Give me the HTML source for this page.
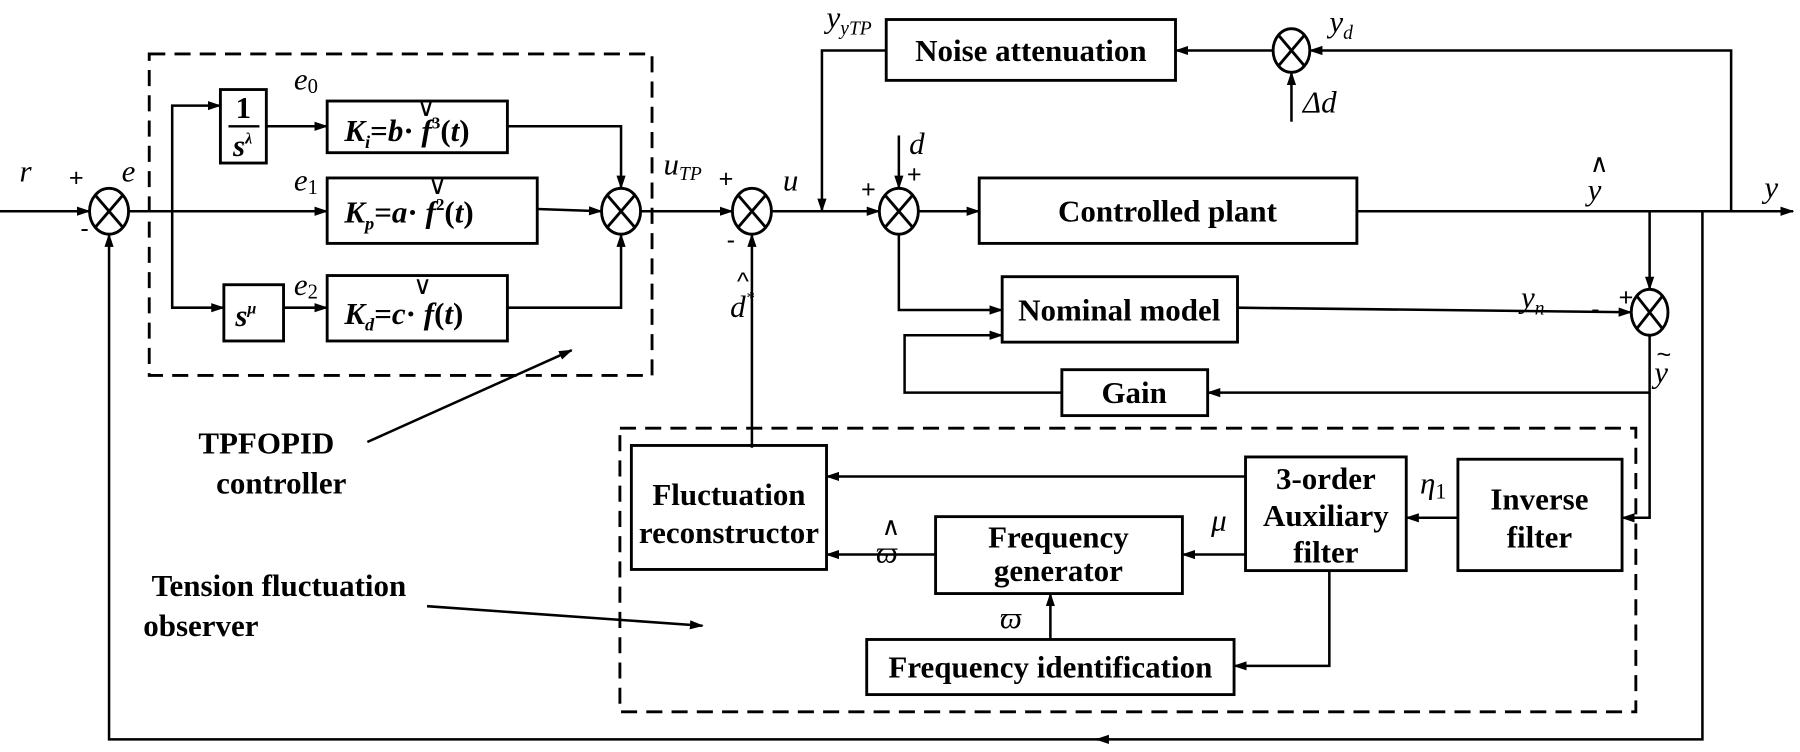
<!DOCTYPE html>
<html><head><meta charset="utf-8"><style>
html,body{margin:0;padding:0;background:#fff;}
svg{display:block;}
.b{font-family:"Liberation Serif",serif;font-weight:bold;font-size:27px;text-anchor:middle;}
.i{font-family:"Liberation Serif",serif;font-style:italic;font-size:27px;}
.s{font-family:"Liberation Sans",sans-serif;font-size:22px;}
</style></head><body>
<svg width="1800" height="752" viewBox="0 0 1568 655" preserveAspectRatio="none" xmlns="http://www.w3.org/2000/svg">
<defs><marker id="a" markerWidth="12" markerHeight="10" refX="11" refY="5" orient="auto" markerUnits="userSpaceOnUse"><path d="M0,1 L12,5 L0,9 Z" fill="#000"/></marker></defs>
<g fill="none" stroke="#000" stroke-width="2.5">
<rect x="130" y="47" width="438" height="280" stroke-dasharray="14,8"/>
<rect x="540" y="373" width="885" height="247" stroke-dasharray="14,8"/>
</g>
<g stroke="#000" stroke-width="2.5" fill="#fff">
<ellipse cx="95" cy="184" rx="17" ry="20"/><ellipse cx="541" cy="184" rx="17" ry="20"/><ellipse cx="655" cy="184" rx="17" ry="20"/><ellipse cx="783" cy="184" rx="17" ry="20"/><ellipse cx="1125" cy="44" rx="16" ry="19"/><ellipse cx="1437" cy="272" rx="16" ry="20"/>
</g>
<g stroke="#000" stroke-width="2.5">
<path d="M83,170 L107,198 M107,170 L83,198 M529,170 L553,198 M553,170 L529,198 M643,170 L667,198 M667,170 L643,198 M771,170 L795,198 M795,170 L771,198 M1114,31 L1136,57 M1136,31 L1114,57 M1426,258 L1448,286 M1448,258 L1426,286"/>
</g>
<g fill="#fff" stroke="#000" stroke-width="2.5">
<rect x="192" y="78" width="40" height="64"/>
<rect x="285" y="88" width="157" height="45"/>
<rect x="285" y="155" width="183" height="57"/>
<rect x="195" y="248" width="52" height="49"/>
<rect x="285" y="240" width="157" height="57"/>
<rect x="772" y="17" width="252" height="53"/>
<rect x="853" y="155" width="329" height="57"/>
<rect x="873" y="241" width="205" height="57"/>
<rect x="925" y="322" width="127" height="40"/>
<rect x="550" y="388" width="170" height="108"/>
<rect x="1085" y="398" width="140" height="99"/>
<rect x="1270" y="400" width="143" height="97"/>
<rect x="815" y="450" width="215" height="67"/>
<rect x="755" y="557" width="320" height="48"/>
</g>
<g fill="none" stroke="#000" stroke-width="2.2" marker-end="url(#a)">
<path d="M0,184 L78,184"/>
<path d="M112,184 L285,184"/>
<path d="M150,184 L150,92 L192,92"/>
<path d="M150,184 L150,268 L195,268"/>
<path d="M232,110 L285,110"/>
<path d="M247,268 L285,268"/>
<path d="M442,110 L541,110 L541,164"/>
<path d="M442,268 L541,268 L541,204"/>
<path d="M468,182 L524,184"/>
<path d="M558,184 L638,184"/>
<path d="M672,184 L766,184"/>
<path d="M772,44 L716,44 L716,184"/>
<path d="M783,118 L783,164"/>
<path d="M800,184 L853,184"/>
<path d="M1182,184 L1562,184"/>
<path d="M1508,184 L1508,44 L1141,44"/>
<path d="M1109,44 L1024,44"/>
<path d="M1125,106 L1125,63"/>
<path d="M1437,184 L1437,252"/>
<path d="M1078,268 L1421,272"/>
<path d="M783,204 L783,270 L873,270"/>
<path d="M925,342 L788,342 L788,292 L873,292"/>
<path d="M1437,292 L1437,342 L1052,342"/>
<path d="M1437,342 L1437,451 L1413,451"/>
<path d="M1483,184 L1483,644 L955,644"/>
<path d="M960,644 L95,644 L95,204"/>
<path d="M655,390 L655,204"/>
<path d="M1270,451 L1225,451"/>
<path d="M1085,415 L720,415"/>
<path d="M1085,483 L1030,483"/>
<path d="M815,483 L720,483"/>
<path d="M1158,497 L1158,580 L1075,580"/>
<path d="M915,557 L915,517"/>
<path d="M320,385 L498,305"/>
<path d="M372,528 L612,545"/>
</g>
<g>
<text class="b" x="212" y="103" font-size="26">1</text>
<line x1="199" y1="110" x2="226" y2="110" stroke="#000" stroke-width="2"/>
<text class="i" x="203" y="136" font-weight="bold" font-size="25">s<tspan font-size="14" dy="-11">λ</tspan></text>
<text class="i" x="205" y="284" font-weight="bold" font-size="25">s<tspan font-size="14" dy="-11">μ</tspan></text>
<text class="i" x="300" y="123" font-weight="bold" font-size="28">K<tspan font-size="16" dy="6">i</tspan><tspan dy="-6" font-style="normal">=</tspan>b<tspan font-style="normal">·</tspan> f<tspan font-size="15" dy="-11" font-style="normal">3</tspan><tspan dy="11" font-style="normal">(</tspan>t<tspan font-style="normal">)</tspan></text>
<text class="s" x="363" y="101" font-size="14">∨</text>
<text class="i" x="300" y="194" font-weight="bold" font-size="28">K<tspan font-size="16" dy="6">p</tspan><tspan dy="-6" font-style="normal">=</tspan>a<tspan font-style="normal">·</tspan> f<tspan font-size="15" dy="-11" font-style="normal">2</tspan><tspan dy="11" font-style="normal">(</tspan>t<tspan font-style="normal">)</tspan></text>
<text class="s" x="373" y="169" font-size="14">∨</text>
<text class="i" x="300" y="282" font-weight="bold" font-size="28">K<tspan font-size="16" dy="6">d</tspan><tspan dy="-6" font-style="normal">=</tspan>c<tspan font-style="normal">·</tspan> f<tspan font-style="normal">(</tspan>t<tspan font-style="normal">)</tspan></text>
<text class="s" x="360" y="256" font-size="14">∨</text>
<text class="i" x="17" y="158">r</text>
<text class="s" x="60" y="162">+</text>
<text class="i" x="106" y="158" font-size="25">e</text>
<text class="s" x="70" y="206" font-size="24">-</text>
<text class="i" x="256" y="78" font-size="22">e<tspan font-style="normal" font-size="18" dy="3">0</tspan></text>
<text class="i" x="256" y="166" font-size="22">e<tspan font-style="normal" font-size="18" dy="3">1</tspan></text>
<text class="i" x="256" y="257" font-size="22">e<tspan font-style="normal" font-size="18" dy="3">2</tspan></text>
<text class="i" x="578" y="152">u<tspan font-size="17" dy="5">TP</tspan></text>
<text class="s" x="626" y="163">+</text>
<text class="i" x="682" y="166">u</text>
<text class="s" x="633" y="216" font-size="24">-</text>
<text class="i" x="636" y="276">d<tspan font-size="15" dy="-12">*</tspan></text>
<text class="s" x="642" y="252" font-size="16">^</text>
<text class="i" x="720" y="24">y<tspan font-size="17" dy="6">yTP</tspan></text>
<text class="i" x="792" y="134" font-size="28">d</text>
<text class="s" x="750" y="172">+</text>
<text class="s" x="790" y="159">+</text>
<text class="i" x="1158" y="28">y<tspan font-size="17" dy="6">d</tspan></text>
<text class="i" x="1135" y="98">Δd</text>
<text class="i" x="1383" y="174">y</text>
<text class="s" x="1385" y="150" font-size="16">∧</text>
<text class="i" x="1537" y="172">y</text>
<text class="i" x="1325" y="268">y<tspan font-size="17" dy="6">n</tspan></text>
<text class="s" x="1386" y="276" font-size="24">-</text>
<text class="s" x="1410" y="266">+</text>
<text class="i" x="1441" y="333">y</text>
<text class="s" x="1443" y="316" font-size="16">~</text>
<text class="i" x="1237" y="430" font-size="25">η<tspan font-style="normal" font-size="19" dy="4">1</tspan></text>
<text class="i" x="1055" y="462">μ</text>
<text class="i" x="763" y="490">ϖ</text>
<text class="s" x="768" y="466" font-size="14">∧</text>
<text class="i" x="871" y="547">ϖ</text>
<text class="b" x="898" y="53">Noise attenuation</text>
<text class="b" x="1017" y="193">Controlled plant</text>
<text class="b" x="975" y="279">Nominal model</text>
<text class="b" x="988" y="351">Gain</text>
<text class="b" x="635" y="440">Fluctuation</text>
<text class="b" x="635" y="473">reconstructor</text>
<text class="b" x="1155" y="426">3-order</text>
<text class="b" x="1155" y="458">Auxiliary</text>
<text class="b" x="1155" y="490">filter</text>
<text class="b" x="1341" y="444">Inverse</text>
<text class="b" x="1341" y="477">filter</text>
<text class="b" x="922" y="477">Frequency</text>
<text class="b" x="922" y="506">generator</text>
<text class="b" x="915" y="590">Frequency identification</text>
<text class="b" x="232" y="395" font-size="29">TPFOPID</text>
<text class="b" x="245" y="430" font-size="29">controller</text>
<text class="b" x="243" y="519" font-size="29">Tension fluctuation</text>
<text class="b" x="175" y="554" font-size="29">observer</text>
</g>
</svg>
</body></html>
